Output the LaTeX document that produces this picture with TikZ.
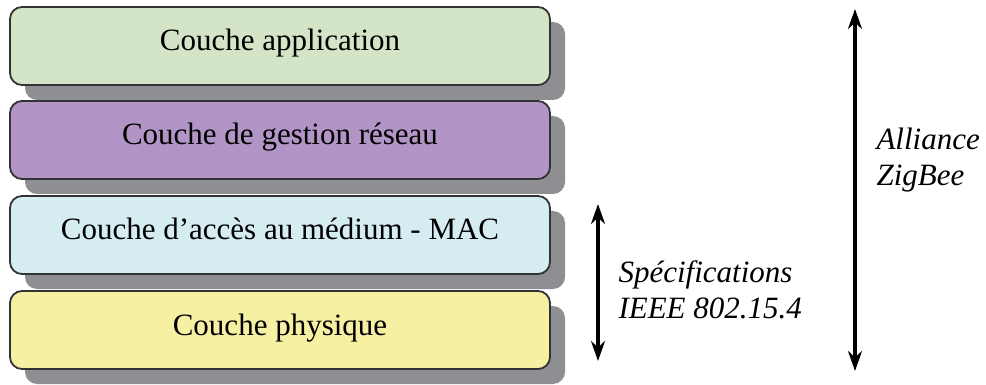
\documentclass[tikz,border=0pt]{standalone}
\usepackage{fontspec}
\setmainfont{Liberation Serif}
\usepackage{tikz}
\usetikzlibrary{arrows.meta,shadows}

\definecolor{appgreen}{HTML}{D3E5C6}
\definecolor{netpurple}{HTML}{B294C6}
\definecolor{macblue}{HTML}{D5ECF0}
\definecolor{phyyellow}{HTML}{F6F0A2}
\definecolor{shadowgray}{HTML}{8E8F93}

\tikzset{
  layer/.style={draw=black!80, line width=1.8pt, rounded corners=12pt,
    minimum width=540pt, minimum height=78pt, inner sep=0pt,
    text height=20pt, text depth=10pt,
    drop shadow={shadow xshift=15pt, shadow yshift=-15pt, fill=shadowgray, opacity=1}},
  bigarrow/.style={draw, line width=3.4pt, {Stealth[length=20pt,width=14pt]}-{Stealth[length=20pt,width=14pt]}},
  tag/.style={anchor=west, align=left, font=\itshape}
}

\begin{document}
\begin{tikzpicture}[x=1pt,y=-1pt]
  \useasboundingbox (0,0) rectangle (986,385);
  \begin{scope}
    \fontsize{31}{36}\selectfont
    \node[layer, fill=appgreen] (app) at (280,46) {Couche application};
    \node[layer, fill=netpurple] (net) at (280,140) {Couche de gestion réseau};
    \node[layer, fill=macblue] (mac) at (280,235) {Couche d’accès au médium - MAC};
    \node[layer, fill=phyyellow] (phy) at (280,330) {Couche physique};

    \coordinate (specTop) at (598,204);
    \coordinate (specBot) at (598,361);
    \path[bigarrow] (specTop) -- (specBot);
    \node[tag] (spec) at (608,290) {Spécifications\\IEEE 802.15.4};

    \coordinate (zbTop) at (855,9);
    \coordinate (zbBot) at (855,371);
    \path[bigarrow] (zbTop) -- (zbBot);
    \node[tag] (zb) at (866,160) {Alliance\\ZigBee};
  \end{scope}
\end{tikzpicture}
\end{document}
